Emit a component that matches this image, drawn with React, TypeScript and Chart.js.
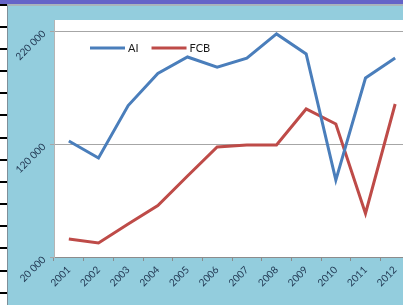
import React, { useEffect, useRef } from "react";
import { Chart, registerables } from "chart.js";

Chart.register(...registerables);

const years = ["2001", "2002", "2003", "2004", "2005", "2006", "2007", "2008", "2009", "2010", "2011", "2012"];
const aiValues = [122700, 107600, 154000, 182500, 197000, 188000, 196000, 217400, 199700, 88100, 178400, 196000];
const fcbValues = [35900, 32400, 49200, 65500, 91700, 117400, 119100, 119100, 151000, 137700, 58500, 155400];
const yTickValues = [20000, 120000, 220000];
const seriesNames = ["AI", "FCB"];

const fmt = (v: number) => String(v).replace(/\B(?=(\d{3})+(?!\d))/g, " ");

const plotBg = {
  id: "plotBg",
  beforeDraw(chart: any) {
    const { ctx, chartArea } = chart;
    ctx.save();
    ctx.fillStyle = "#ffffff";
    ctx.fillRect(chartArea.left, chartArea.top, chartArea.right - chartArea.left, chartArea.bottom - chartArea.top);
    ctx.restore();
  },
};

const yLabels = {
  id: "yLabels",
  afterDraw(chart: any) {
    const { ctx } = chart;
    const s = chart.scales.y;
    ctx.save();
    ctx.font = "10px Lato";
    ctx.fillStyle = "#1F3550";
    ctx.textAlign = "right";
    ctx.textBaseline = "middle";
    s.ticks.forEach((t: any) => {
      const py = s.getPixelForValue(t.value);
      ctx.save();
      ctx.translate(s.right - 10, py + 1);
      ctx.rotate(-Math.PI / 4);
      ctx.fillText(fmt(t.value), 0, 0);
      ctx.restore();
    });
    ctx.restore();
  },
};

const inlineLegend = {
  id: "inlineLegend",
  afterDatasetsDraw(chart: any) {
    const { ctx, chartArea } = chart;
    let x = chartArea.left + 36;
    const y = chartArea.top + 28;
    ctx.save();
    ctx.font = "11px Lato";
    ctx.textBaseline = "middle";
    ctx.textAlign = "left";
    chart.data.datasets.forEach((ds: any) => {
      ctx.strokeStyle = ds.borderColor;
      ctx.lineWidth = 3;
      ctx.beginPath();
      ctx.moveTo(x, y);
      ctx.lineTo(x + 35, y);
      ctx.stroke();
      x += 38;
      ctx.fillStyle = "#1a1a1a";
      ctx.fillText(ds.label, x, y);
      x += ctx.measureText(ds.label).width + 13;
    });
    ctx.restore();
  },
};

export default function App() {
  const ref = useRef<HTMLCanvasElement | null>(null);
  useEffect(() => {
    document.body.style.margin = "0";
    const chart = new Chart(ref.current as HTMLCanvasElement, {
      type: "line",
      data: {
        labels: years,
        datasets: [
          {
            label: seriesNames[0],
            data: aiValues,
            borderColor: "#4A7EBB",
            backgroundColor: "#4A7EBB",
            borderWidth: 3,
            pointRadius: 0,
            tension: 0,
          },
          {
            label: seriesNames[1],
            data: fcbValues,
            borderColor: "#BE4B48",
            backgroundColor: "#BE4B48",
            borderWidth: 3,
            pointRadius: 0,
            tension: 0,
          },
        ],
      },
      options: {
        animation: false,
        responsive: false,
        maintainAspectRatio: false,
        layout: { padding: { top: 20, right: 5, left: 0, bottom: 0 } },
        plugins: { legend: { display: false }, tooltip: { enabled: false } },
        scales: {
          x: {
            type: "category",
            offset: true,
            afterFit: (s: any) => {
              s.height = 48;
            },
            grid: { display: true, offset: true, drawOnChartArea: false, drawTicks: true, tickLength: 4, color: "#8c8c8c" },
            border: { display: true, color: "#8c8c8c", width: 1 },
            ticks: {
              minRotation: 45,
              maxRotation: 45,
              autoSkip: false,
              padding: 3,
              color: "#1F3550",
              font: { family: "Lato", size: 10 },
            },
          },
          y: {
            min: 20000,
            max: 229735,
            afterFit: (s: any) => {
              s.width = 54;
            },
            afterBuildTicks: (s: any) => {
              s.ticks = yTickValues.map((v) => ({ value: v }));
            },
            grid: { display: true, color: "#A6A6A6", lineWidth: 1, drawTicks: true, tickLength: 4 },
            border: { display: true, color: "#B4B4B4", width: 1 },
            ticks: { display: false },
          },
        },
      },
      plugins: [plotBg, yLabels, inlineLegend],
    });
    return () => chart.destroy();
  }, []);

  const tickYs = [4, 26, 48, 70, 92, 114, 137, 159, 181, 203, 225, 247, 270, 292];

  return (
    <div style={{ position: "relative", width: 403, height: 305, overflow: "hidden", background: "#ffffff" }}>
      <div style={{ position: "absolute", left: 0, top: 0, width: 403, height: 4, background: "#6464C8" }} />
      <div
        style={{
          position: "absolute",
          left: 7,
          top: 4,
          right: 0,
          bottom: 0,
          background: "#93CDDD",
          borderLeft: "1px solid #7f8f99",
          borderTop: "2px solid #a9b4bb",
        }}
      />
      {tickYs.map((t, i) => (
        <div key={i} style={{ position: "absolute", left: 0, top: t, width: 7, height: 2, background: "#000" }} />
      ))}
      <canvas ref={ref} width={415} height={305} style={{ position: "absolute", left: 0, top: 0, width: 415, height: 305 }} />
    </div>
  );
}
